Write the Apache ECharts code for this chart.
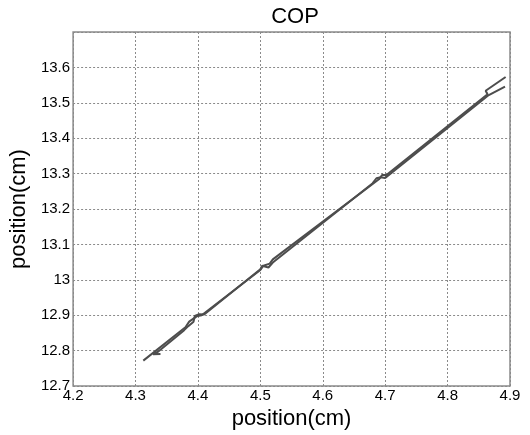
<!DOCTYPE html>
<html>
<head>
<meta charset="utf-8">
<script src="https://cdn.jsdelivr.net/npm/echarts@6/dist/echarts.min.js"></script>
<style>html,body{margin:0;padding:0;background:#fff}#c{width:530px;height:435px}</style>
</head>
<body>
<div id="c"></div>
<script>
// Tick ranges
var xTicks = [4.2, 4.3, 4.4, 4.5, 4.6, 4.7, 4.8, 4.9];
var yTicks = [12.7, 12.8, 12.9, 13.0, 13.1, 13.2, 13.3, 13.4, 13.5, 13.6];
// COP trajectory: upward strand
var strandUpX = [4.3125, 4.38, 4.386, 4.398, 4.406, 4.50, 4.505, 4.515, 4.52, 4.69, 4.695, 4.702, 4.704, 4.864, 4.861, 4.893];
var strandUpY = [12.772, 12.866, 12.882, 12.897, 12.900, 13.028, 13.040, 13.046, 13.058, 13.284, 13.296, 13.296, 13.292, 13.524, 13.534, 13.573];
// COP trajectory: return strand
var strandDownX = [4.892, 4.866, 4.70, 4.693, 4.686, 4.68, 4.52, 4.513, 4.503, 4.50, 4.41, 4.402, 4.395, 4.393, 4.385, 4.378, 4.336, 4.328, 4.34];
var strandDownY = [13.546, 13.522, 13.288, 13.290, 13.287, 13.273, 13.049, 13.035, 13.040, 13.030, 12.902, 12.903, 12.898, 12.882, 12.870, 12.858, 12.797, 12.790, 12.791];

function pairs(xs, ys){ return xs.map(function(x,i){ return [x, ys[i]]; }); }
function fmt(v){ return String(Math.round(v*10)/10); }

var chart = echarts.init(document.getElementById('c'), null, {renderer:'canvas'});
var font = 'Liberation Sans, Arial, Helvetica, sans-serif';
chart.setOption({
  animation: false,
  backgroundColor: '#fff',
  title: {
    text: 'COP', left: 290, top: 1, textAlign: 'center',
    textStyle: {fontFamily: font, fontSize: 22, fontWeight: 'normal', color: '#000'}
  },
  grid: {left: 70, right: 20, top: 32, bottom: 38, show: true, borderColor: '#8a8a8a', borderWidth: 1.5, backgroundColor: 'transparent'},
  xAxis: {
    type: 'value', min: xTicks[0], max: xTicks[xTicks.length-1], interval: 0.1,
    name: 'position(cm)', nameLocation: 'middle', nameGap: 15,
    nameTextStyle: {fontFamily: font, fontSize: 22, color: '#000'},
    axisLine: {show: false}, axisTick: {show: false},
    axisLabel: {fontFamily: font, fontSize: 15, color: '#000', margin: 2, formatter: fmt},
    splitLine: {show: true, lineStyle: {color: '#8a8a8a', type: [2, 2], width: 1}}
  },
  yAxis: {
    type: 'value', min: yTicks[0], max: 13.7, interval: 0.1,
    name: 'position(cm)', nameLocation: 'middle', nameGap: 35,
    nameTextStyle: {fontFamily: font, fontSize: 22, color: '#000'},
    axisLine: {show: false}, axisTick: {show: false},
    axisLabel: {fontFamily: font, fontSize: 15, color: '#000', margin: 3, formatter: fmt, showMaxLabel: false},
    splitLine: {show: true, lineStyle: {color: '#8a8a8a', type: [2, 2], width: 1}}
  },
  series: [
    {type: 'line', data: pairs(strandUpX, strandUpY), showSymbol: false, symbol: 'none',
     lineStyle: {color: '#4d4d4d', width: 2}, z: 3},
    {type: 'line', data: pairs(strandDownX, strandDownY), showSymbol: false, symbol: 'none',
     lineStyle: {color: '#4d4d4d', width: 2}, z: 3}
  ]
});
</script>
</body>
</html>
